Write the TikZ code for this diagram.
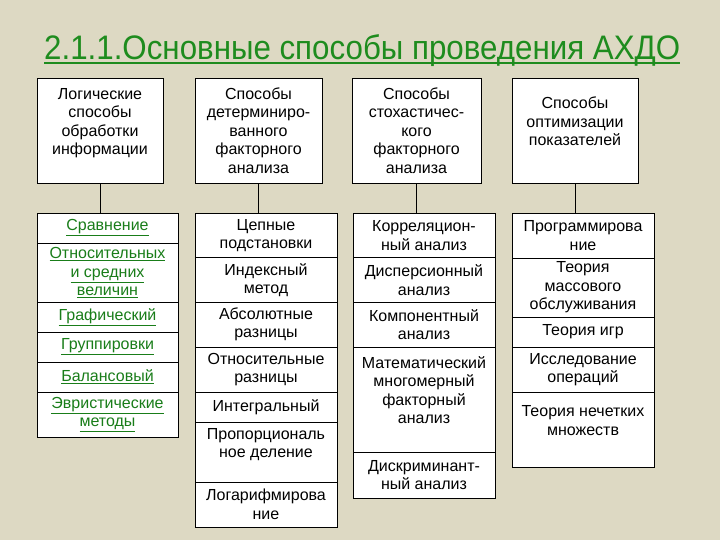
\documentclass[tikz,border=0pt]{standalone}
\usepackage{fontspec}
\setmainfont{Liberation Sans}
\definecolor{slidebg}{RGB}{221,217,195}
\definecolor{titlegreen}{RGB}{30,140,30}
\definecolor{linkgreen}{RGB}{25,125,25}
\newcommand{\lnk}[1]{\textcolor{linkgreen}{\underline{#1}}}
\tikzset{
  cell/.style={draw, fill=white, line width=0.8pt, inner sep=0pt, align=center,
    font=\fontsize{16}{18.5}\selectfont},
  head/.style={cell, minimum height=105},
  low/.style={cell, minimum width=142},
}
\begin{document}
\begin{tikzpicture}[x=1pt, y=-1pt]
    \fill[slidebg] (0,0) rectangle (720,540);
    \useasboundingbox (0,0) rectangle (720,540);
    \node[anchor=base west, inner sep=0pt, text=titlegreen, font=\fontsize{34}{40}\selectfont] (title) at (44,60) {\resizebox{636pt}{\height}{2.1.1.Основные способы проведения АХДО}};
    \draw[titlegreen, line width=2pt] ([yshift=-3pt]title.base west) -- ([yshift=-3pt]title.base east);
    % top boxes
    \node[head, minimum width=126] (logic) at (100,130.5) {Логические\\способы\\обработки\\информации\\\mbox{}};
    \node[head, minimum width=127] (determ) at (258.5,130.5) {Способы\\детерминиро-\\ванного\\факторного\\анализа};
    \node[head, minimum width=129] (stoch) at (416.5,130.5) {Способы\\стохастичес-\\кого\\факторного\\анализа};
    \node[head, minimum width=126] (optim) at (575,130.5) {Способы\\оптимизации\\показателей\\\mbox{}};
    % column 1
    \node[low, minimum width=141, minimum height=30] (srav) at (107.5,228) {\lnk{Сравнение}};
    \node[low, minimum width=141, minimum height=59] (otnos) at (107.5,272.5) {\lnk{Относительных}\\\lnk{и средних}\\\lnk{величин}};
    \node[low, minimum width=141, minimum height=30] (graf) at (107.5,317) {\lnk{Графический}};
    \node[low, minimum width=141, minimum height=30] (grup) at (107.5,347) {\lnk{Группировки}};
    \node[low, minimum width=141, minimum height=30] (balans) at (107.5,377) {\lnk{Балансовый}};
    \node[low, minimum width=141, minimum height=45] (evrist) at (107.5,414.5) {\lnk{Эвристические}\\\lnk{методы}};
    % column 2
    \node[low, minimum height=45] (cep) at (266,235.5) {Цепные\\подстановки};
    \node[low, minimum height=45] (indeks) at (266,280) {Индексный\\метод};
    \node[low, minimum height=45] (absol) at (266,324.5) {Абсолютные\\разницы};
    \node[low, minimum height=45] (otnraz) at (266,369.5) {Относительные\\разницы};
    \node[low, minimum height=30] (integr) at (266,407) {Интегральный};
    \node[low, minimum height=60] (prop) at (266,452) {Пропорциональ\\ное деление\\\mbox{}};
    \node[low, minimum height=45] (logar) at (266,504.5) {Логарифмирова\\ние};
    % column 3
    \node[low, minimum height=45] (korr) at (424,235.5) {Корреляцион-\\ный анализ};
    \node[low, minimum height=45] (disp) at (424,280) {Дисперсионный\\анализ};
    \node[low, minimum height=45] (komp) at (424,324.5) {Компонентный\\анализ};
    \node[low, minimum height=105] (matem) at (424,399.5) {Математический\\многомерный\\факторный\\анализ\\\mbox{}};
    \node[low, minimum height=46] (diskr) at (424,475) {Дискриминант-\\ный анализ};
    % column 4
    \node[low, minimum height=45] (progr) at (583,235.5) {Программирова\\ние};
    \node[low, minimum height=59] (massov) at (583,287.5) {Теория\\массового\\обслуживания};
    \node[low, minimum height=30] (igr) at (583,332) {Теория игр};
    \node[low, minimum height=45] (issled) at (583,369.5) {Исследование\\операций};
    \node[low, minimum height=75] (nechet) at (583,429.5) {Теория нечетких\\множеств\\\mbox{}};
    % links
    \draw[line width=0.8pt] (logic.south) -- (logic.south |- srav.north);
    \draw[line width=0.8pt] (determ.south) -- (determ.south |- cep.north);
    \draw[line width=0.8pt] (stoch.south) -- (stoch.south |- korr.north);
    \draw[line width=0.8pt] (optim.south) -- (optim.south |- progr.north);
\end{tikzpicture}
\end{document}
